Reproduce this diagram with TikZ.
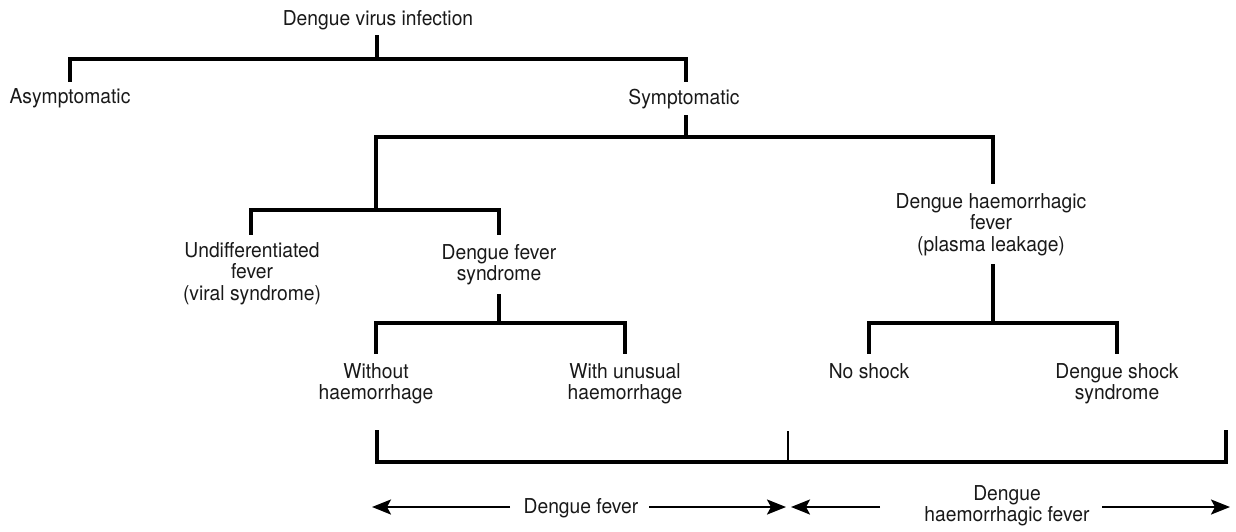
\documentclass[tikz,border=0pt]{standalone}
\usepackage{fontspec}
\setmainfont{TeX Gyre Heros}[FakeStretch=0.94]
\usetikzlibrary{arrows.meta}
\begin{document}
\begin{tikzpicture}[x=1pt,y=-1pt,
  lbl/.style={font=\fontsize{20.5}{21.5}\selectfont, align=center, inner sep=0pt, anchor=north, text=black!90},
  tree/.style={line width=3.2pt, line cap=rect, line join=miter},
  span/.style={line width=2.4pt, -{Stealth[length=19pt,width=15pt,inset=4pt]}}]
\useasboundingbox (0,0) rectangle (1236,531);
% labels
\node[lbl] (root) at (378,10) {Dengue virus infection};
\node[lbl] (asym) at (70,88) {Asymptomatic};
\node[lbl] (sym) at (684,89) {Symptomatic};
\node[lbl] (undiff) at (252,242) {Undifferentiated\\fever\\(viral syndrome)};
\node[lbl] (dfs) at (499,244) {Dengue fever\\syndrome};
\node[lbl] (dhf) at (991,193) {Dengue haemorrhagic\\fever\\(plasma leakage)};
\node[lbl] (wo) at (376,363) {Without\\haemorrhage};
\node[lbl] (wu) at (625,363) {With unusual\\haemorrhage};
\node[lbl] (ns) at (869,363) {No shock};
\node[lbl] (dss) at (1117,363) {Dengue shock\\syndrome};
\node[lbl] (dflab) at (581,498) {Dengue fever};
\node[lbl] (dhflab) at (1007,485) {Dengue\\haemorrhagic fever};
% junction coordinates
\coordinate (r0) at (377,37);
\coordinate (r1) at (377,59);
\coordinate (aL) at (70,59);  \coordinate (aL2) at (70,80);
\coordinate (aR) at (686,59); \coordinate (aR2) at (686,80);
\coordinate (s0) at (686,117);
\coordinate (s1) at (686,137);
\coordinate (sL) at (376,137); \coordinate (sL2) at (376,210);
\coordinate (sR) at (993,137); \coordinate (sR2) at (993,182);
\coordinate (uL) at (251,210); \coordinate (uL2) at (251,233);
\coordinate (uR) at (499,210); \coordinate (uR2) at (499,233);
\coordinate (d0) at (499,296);
\coordinate (d1) at (499,323);
\coordinate (wL) at (376,323); \coordinate (wL2) at (376,352);
\coordinate (wR) at (625,323); \coordinate (wR2) at (625,352);
\coordinate (h0) at (993,266);
\coordinate (h1) at (993,323);
\coordinate (nL) at (869,323); \coordinate (nL2) at (869,352);
\coordinate (nR) at (1117,323); \coordinate (nR2) at (1117,352);
\coordinate (bL) at (377,432); \coordinate (bL2) at (377,462);
\coordinate (bM) at (788,432); \coordinate (bM2) at (788,462);
\coordinate (bR) at (1226,432); \coordinate (bR2) at (1226,462);
% tree connectors
\draw[tree] (r0) -- (r1);
\draw[tree] (aL2) -- (aL) -- (aR) -- (aR2);
\draw[tree] (s0) -- (s1);
\draw[tree] (sL2) -- (sL) -- (sR) -- (sR2);
\draw[tree] (uL2) -- (uL) -- (uR) -- (uR2);
\draw[tree] (d0) -- (d1);
\draw[tree] (wL2) -- (wL) -- (wR) -- (wR2);
\draw[tree] (h0) -- (h1);
\draw[tree] (nL2) -- (nL) -- (nR) -- (nR2);
\draw[tree] (bL) -- (bL2) -- (bR2) -- (bR);
\draw[tree, line width=2.4pt] (bM) -- (bM2);
% span arrows
\coordinate (a1s) at (510,507); \coordinate (a1) at (372,507);
\coordinate (a2s) at (649,507); \coordinate (a2) at (786,507);
\coordinate (a3s) at (880,507); \coordinate (a3) at (791,507);
\coordinate (a4s) at (1102,507); \coordinate (a4) at (1230,507);
\draw[span] (a1s) -- (a1);
\draw[span] (a2s) -- (a2);
\draw[span] (a3s) -- (a3);
\draw[span] (a4s) -- (a4);
\end{tikzpicture}
\end{document}
